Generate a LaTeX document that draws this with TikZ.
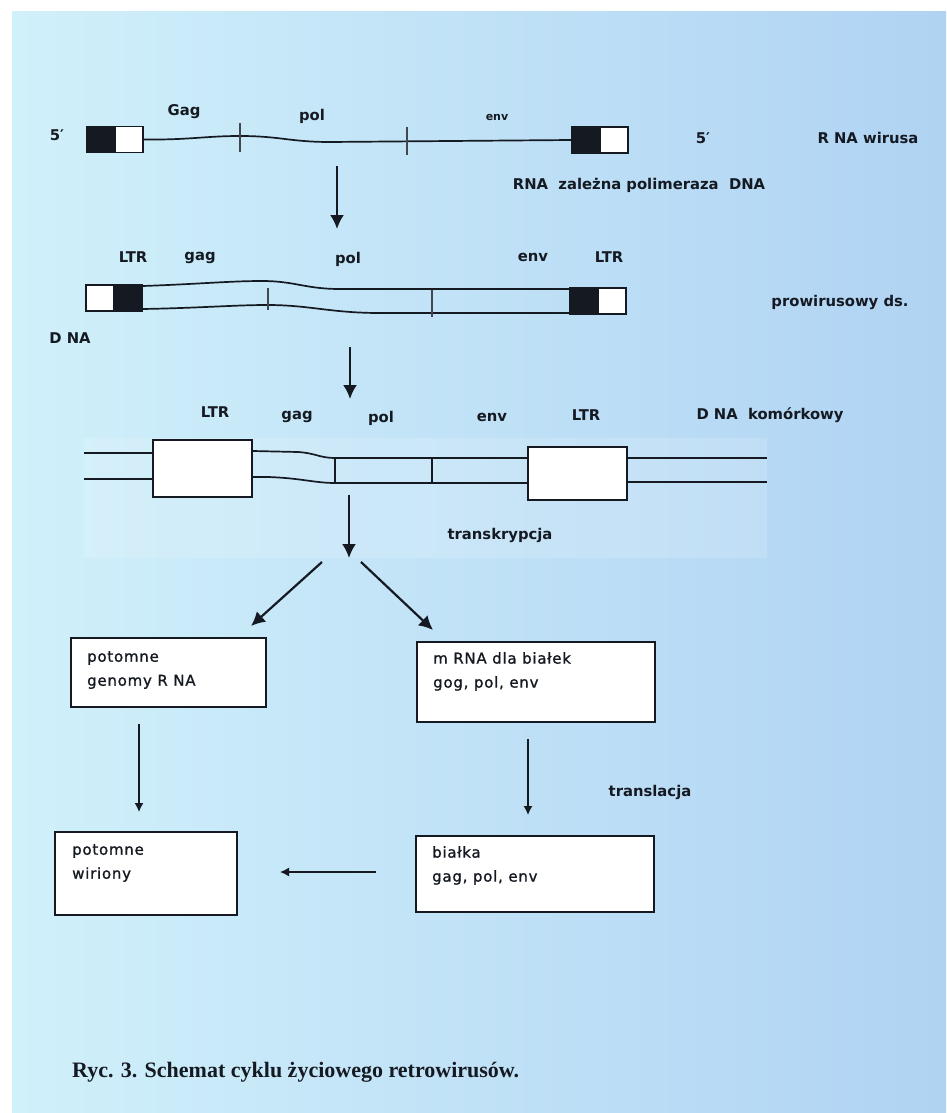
\documentclass[tikz,border=0pt]{standalone}
\usepackage{fontspec}
\setmainfont{DejaVu Sans}
\newfontfamily\capfont{Liberation Serif}
\newfontfamily\boxfont[FakeBold=1.2,LetterSpace=5]{DejaVu Sans}
\usetikzlibrary{arrows.meta}
\definecolor{bgL}{HTML}{D0F0FA}
\definecolor{bgR}{HTML}{B0D3F3}
\definecolor{ink}{HTML}{151A22}
\begin{document}
\begin{tikzpicture}[x=1pt,y=-1pt,
  lbl/.style={font=\fontsize{14.8}{16}\selectfont\bfseries, text=ink, inner sep=0},
  tiny/.style={font=\fontsize{11}{12}\selectfont\bfseries, text=ink, inner sep=0},
  boxtxt/.style={font=\boxfont\fontsize{15}{24}\selectfont, text=ink, align=left, inner sep=0, anchor=north west},
  blk/.style={draw=ink, line width=1.5pt, fill=ink, minimum height=26pt, minimum width=28pt, inner sep=0},
  wht/.style={draw=ink, line width=1.5pt, fill=white, minimum height=26pt, minimum width=28pt, inner sep=0},
  ltrbox/.style={draw=ink, line width=1.8pt, fill=white, inner sep=0},
  gbox/.style={draw=ink, line width=1.8pt, fill=white, inner sep=0},
  dna/.style={draw=ink, line width=1.7pt},
  tick/.style={draw=ink!80, line width=2pt},
  bigarrow/.style={draw=ink, line width=2.2pt, -{Latex[length=14pt,width=14pt]}},
  smallarrow/.style={draw=ink, line width=1.4pt, -{Latex[length=9pt,width=9pt]}}
]
\useasboundingbox (0,0) rectangle (946,1113);
\fill[white] (0,0) rectangle (946,1113);
\shade[left color=bgL, right color=bgR] (12,12) rectangle (946,1113);

% ---------- row 1: RNA wirusa ----------
\node[lbl] (t5a) at (57,135) {5′};
\node[blk] (r1a) at (101,139.5) {};
\node[wht] (r1b) at (129,139.5) {};
\node[blk] (r1c) at (586,140) {};
\node[wht] (r1d) at (614,140) {};
\draw[dna] (r1b.east) .. controls (190,140) and (205,136) .. (240,136)
  .. controls (280,136) and (290,142) .. (330,142) -- (r1c.west);
\draw[tick] (240,123) -- (240,152);
\draw[tick] (407,127) -- (407,155);
\node[lbl] (gag1) at (184,112) {Gag};
\node[lbl] (pol1) at (312,116) {pol};
\node[tiny] (env1) at (497,117) {env};
\node[lbl] (t5b) at (703,138) {5′};
\node[lbl] (rnaw) at (868,138) {R NA wirusa};
\node[lbl] (poly) at (639,185) {RNA\ \ zależna polimeraza\ \ DNA};
\coordinate (a1s) at (337,166);
\coordinate (a1e) at (337,229);
\draw[bigarrow] (a1s) -- (a1e);

% ---------- row 2: provirus ----------
\node[wht] (r2a) at (100,298) {};
\node[blk] (r2b) at (128,298) {};
\node[blk] (r2c) at (584,301) {};
\node[wht] (r2d) at (612,301) {};
\draw[dna] (r2b.east |- 0,286) .. controls (200,284) and (230,281) .. (262,281)
  .. controls (295,281) and (305,289) .. (340,289) -- (r2c.west |- 0,289);
\draw[dna] (r2b.east |- 0,309) .. controls (200,308) and (235,305) .. (267,305)
  .. controls (310,305) and (330,313) .. (380,313) -- (r2c.west |- 0,313);
\draw[tick] (268,288) -- (268,310);
\draw[tick] (432,290) -- (432,317);
\node[lbl] (ltr1) at (133,257) {LTR};
\node[lbl] (gag2) at (200,258) {gag};
\node[lbl] (pol2) at (348,259) {pol};
\node[lbl] (env2) at (533,257) {env};
\node[lbl] (ltr2) at (609,257) {LTR};
\node[lbl] (prow) at (840,302) {prowirusowy ds.};
\node[lbl] (dna2) at (70,338) {D NA};
\coordinate (a2s) at (350,347);
\coordinate (a2e) at (350,399);
\draw[bigarrow] (a2s) -- (a2e);

% ---------- row 3: integrated provirus ----------
\fill[white, opacity=0.15] (84,438) rectangle (767,558);
\node[ltrbox, minimum width=99pt, minimum height=57pt] (ltrL) at (202.5,468.5) {};
\node[ltrbox, minimum width=99pt, minimum height=53pt] (ltrR) at (577.5,473.5) {};
\coordinate (l3a) at (84,453);
\coordinate (l3b) at (84,479);
\coordinate (r3a) at (767,458);
\coordinate (r3b) at (767,482);
\draw[dna] (l3a) -- (ltrL.west |- l3a);
\draw[dna] (l3b) -- (ltrL.west |- l3b);
\draw[dna] (ltrL.east |- 0,451) -- (298,452) .. controls (315,453) and (320,458) .. (335,458) -- (ltrR.west |- 0,458);
\draw[dna] (ltrL.east |- 0,477) -- (268,477) .. controls (300,478) and (315,483) .. (335,483) -- (ltrR.west |- 0,483);
\draw[dna] (ltrR.east |- r3a) -- (r3a);
\draw[dna] (ltrR.east |- r3b) -- (r3b);
\draw[dna] (335,458) -- (335,483);
\draw[dna] (432,458) -- (432,484);
\node[lbl] (ltr3) at (215,412) {LTR};
\node[lbl] (gag3) at (297,417) {gag};
\node[lbl] (pol3) at (381,418) {pol};
\node[lbl] (env3) at (492,417) {env};
\node[lbl] (ltr4) at (586,415) {LTR};
\node[lbl] (dnak) at (770,415) {D NA\ \ komórkowy};
\node[lbl] (trans) at (500,535) {transkrypcja};
\coordinate (a3s) at (349,495);
\coordinate (a3e) at (349,558);
\draw[bigarrow] (a3s) -- (a3e);

% ---------- boxes ----------
\node[gbox, minimum width=195pt, minimum height=69pt] (bgen) at (168.5,672.5) {};
\node[boxtxt] at (87,651) {potomne\\genomy R NA};
\node[gbox, minimum width=238pt, minimum height=80pt] (bmrna) at (536,682) {};
\node[boxtxt] at (433,652) {m RNA dla białek\\gog, pol, env};
\node[gbox, minimum width=238pt, minimum height=76pt] (bbia) at (535,874) {};
\node[boxtxt] at (432,846) {białka\\gag, pol, env};
\node[gbox, minimum width=182pt, minimum height=83pt] (bwir) at (146,873.5) {};
\node[boxtxt] at (72,844) {potomne\\wiriony};
\node[lbl] (transl) at (650,792) {translacja};

\coordinate (d1s) at (322,562);
\coordinate (d2s) at (361,562);
\draw[bigarrow] (d1s) -- (251,626);
\draw[bigarrow] (d2s) -- (433,630);
\draw[smallarrow] (bgen.south -| 139,0) ++(0,16) -- (139,812);
\draw[smallarrow] (bmrna.south -| 528,0) ++(0,16) -- (528,815);
\draw[smallarrow] (376,872) -- (280,872);

% ---------- caption ----------
\node[font=\capfont\bfseries\fontsize{22}{24}\selectfont, text=ink, anchor=west, inner sep=0] (cap) at (72,1072) {Ryc. 3. Schemat cyklu życiowego retrowirusów.};
\end{tikzpicture}
\end{document}
